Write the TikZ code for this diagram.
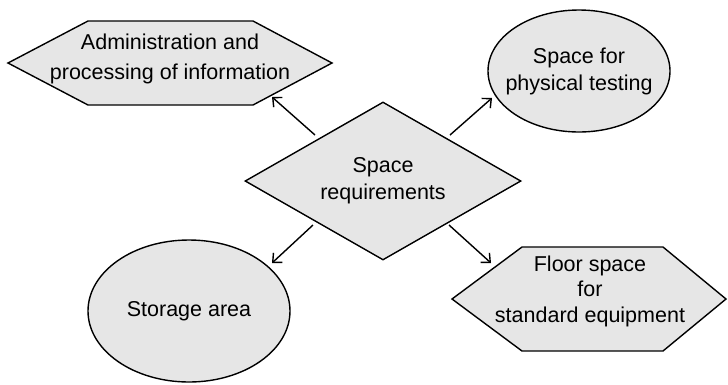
\documentclass[tikz,border=0pt]{standalone}
\usepackage{fontspec}
\setmainfont{Liberation Sans}
\usetikzlibrary{shapes.geometric,arrows.meta,calc}
\definecolor{shapefill}{HTML}{E6E6E6}
\tikzset{
  box/.style={draw=black, line width=1.4pt, fill=shapefill},
  label/.style={align=center, inner sep=0pt, font=\fontsize{21.5}{27}\selectfont},
  arr/.style={draw=black, line width=1.4pt, -{Straight Barb[length=7pt,width=13pt,line width=1.4pt]}}
}
\begin{document}
\begin{tikzpicture}[x=1pt, y=-1pt]
  \useasboundingbox (0,0) rectangle (728,384);

  % hexagon: administration
  \draw[box] (8,63) -- (88,21) -- (253,21) -- (332,63) -- (253,105) -- (88,105) -- cycle;
  \node[label, font=\fontsize{21.5}{30}\selectfont] (admin) at (170,59) {Administration and\\processing of information};

  % hexagon: floor space
  \draw[box] (452,299) -- (522,247) -- (663,247) -- (726,299) -- (663,351) -- (522,351) -- cycle;
  \node[label, font=\fontsize{21.5}{25.5}\selectfont] (floor) at (590,291) {Floor space\\for\\standard equipment};

  % ellipses
  \node[box, ellipse, minimum width=182pt, minimum height=122pt, inner sep=0pt] (test) at (579,71) {};
  \node[label] at (test.center) {Space for\\physical testing};
  \node[box, ellipse, minimum width=202pt, minimum height=142pt, inner sep=0pt] (store) at (189,311) {};
  \node[label] at (store.center) {Storage area};

  % central diamond
  \node[box, diamond, minimum width=276pt, minimum height=158pt, inner sep=0pt] (dia) at (383,181) {};
  \node[label] at (dia.center) {Space\\requirements};

  % connectors
  \draw[arr] ($(dia.center)+(-68,-46)$) -- ($(admin.center)+(102,38)$);
  \draw[arr] ($(dia.center)+(67,-46)$) -- ($(test.center)+(-87,27)$);
  \draw[arr] ($(dia.center)+(-70,44)$) -- ($(store.center)+(83,-48)$);
  \draw[arr] ($(dia.center)+(66,44)$) -- ($(floor.center)+(-99,-28)$);
\end{tikzpicture}
\end{document}
